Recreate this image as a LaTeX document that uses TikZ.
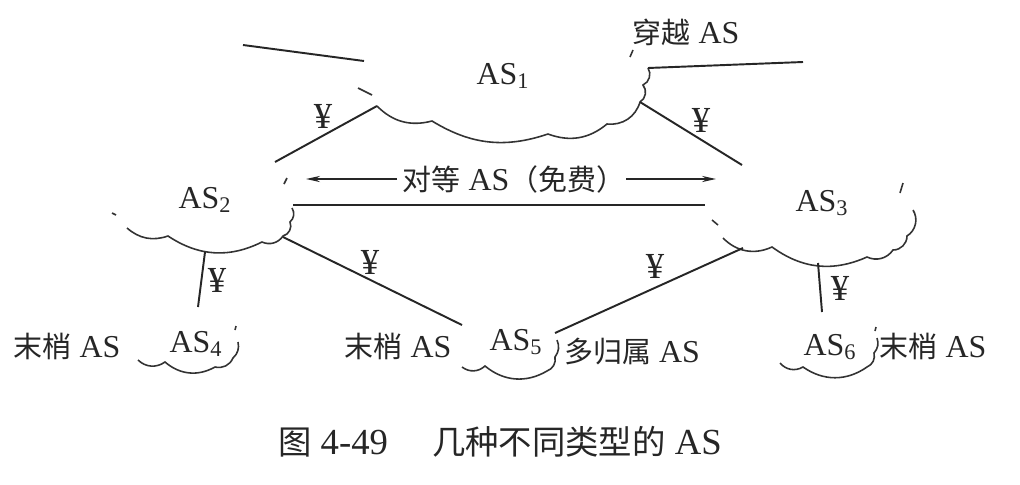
\documentclass[tikz,border=0pt]{standalone}
\usepackage{fontspec}
\setmainfont{Liberation Serif}[Scale=1.1]
\newfontfamily\cjk{Noto Sans CJK SC}
\usetikzlibrary{arrows.meta}
\begin{document}
\begin{tikzpicture}[x=0.02cm,y=-0.02cm,
  lbl/.style={inner sep=0pt, font=\fontsize{16.5}{19}\selectfont, text=black!85},
  yen/.style={inner sep=0pt, font=\fontsize{19}{22}\selectfont, text=black!85},
  captxt/.style={inner sep=0pt, font=\fontsize{19}{22}\selectfont, text=black!85},
  link/.style={line width=1.1pt, draw=black!85},
  cl/.style={line width=0.9pt, draw=black!80},
  tip/.style={-{Stealth[length=8pt,width=3.5pt]}}]

\fill[white] (0,0) rectangle (1020,484);
\useasboundingbox (0,0) rectangle (1020,484);

% ---------- clouds (lower outlines) ----------
% AS1
\draw[cl] (377,106) to[bend right=30] (432,121) to[bend right=25] (548,134)
  to[bend right=30] (607,124) to[bend right=40] (640,102)
  to[bend right=50] (643,85) to[bend right=50] (648,68);
\draw[cl] (358,88) -- (372,95);
\draw[cl] (633,50) -- (630,57);
% AS2
\draw[cl] (112,213) -- (116,215);
\draw[cl] (127,228) to[bend right=30] (168,236) to[bend right=30] (262,242)
  to[bend right=40] (283,236) to[bend right=50] (290,222) to[bend right=40] (292,208);
\draw[cl] (284,184) -- (287,178);
% AS3
\draw[cl] (712,220) -- (718,225);
\draw[cl] (723,238) to[bend right=35] (772,247) to[bend right=30] (867,257)
  to[bend right=40] (893,250) to[bend right=45] (907,236) to[bend right=45] (913,210);
\draw[cl] (900,193) -- (903,183);
% AS4
\draw[cl] (138,360) to[bend right=40] (165,362) to[bend right=35] (215,367)
  to[bend right=40] (233,358) to[bend right=30] (238,342);
\draw[cl] (235,330) -- (236,326);
% AS5
\draw[cl] (462,367) to[bend right=40] (485,366) to[bend right=35] (547,371)
  to[bend right=40] (555,357) to[bend right=30] (557,340);
% AS6
\draw[cl] (780,363) to[bend right=40] (803,367) to[bend right=35] (867,367)
  to[bend right=40] (874,353) to[bend right=30] (877,338);
\draw[cl] (875,331) -- (876,327);

% ---------- text ----------
\node[lbl] (t1) at (686,32) {{\cjk 穿越} AS};
\node[lbl] (as1) at (503,76) {AS\textsubscript{1}};
\node[lbl] (as2) at (205,200) {AS\textsubscript{2}};
\node[lbl] (as3) at (822,203) {AS\textsubscript{3}};
\node[lbl] (as4) at (196,344) {AS\textsubscript{4}};
\node[lbl] (as5) at (516,342) {AS\textsubscript{5}};
\node[lbl] (as6) at (830,347) {AS\textsubscript{6}};
\node[lbl] (m4) at (67,346) {{\cjk 末梢} AS};
\node[lbl] (m5) at (398,346) {{\cjk 末梢} AS};
\node[lbl] (m6) at (933,346) {{\cjk 末梢} AS};
\node[lbl] (mh) at (632,352) {{\cjk 多归属} AS};
\node[lbl] (peer) at (514,179) {{\cjk 对等} AS{\cjk （免费）}};
\node[yen] (y1) at (323,116) {¥};
\node[yen] (y2) at (701,120) {¥};
\node[yen] (y3) at (217,280) {¥};
\node[yen] (y4) at (370,262) {¥};
\node[yen] (y5) at (655,266) {¥};
\node[yen] (y6) at (840,288) {¥};
\node[captxt] (caption) at (500,442) {{\cjk 图} 4-49\hspace{1.2em}{\cjk 几种不同类型的} AS};

% ---------- connector endpoints ----------
\coordinate (a1w) at (377,106);
\coordinate (a1e) at (640,102);
\coordinate (a1ne) at (648,68);
\coordinate (a2ne) at (275,162);
\coordinate (a2e) at (293,205);
\coordinate (a2se) at (283,237);
\coordinate (a2s) at (205,252);
\coordinate (a3nw) at (742,165);
\coordinate (a3w) at (705,205);
\coordinate (a3sw) at (743,248);
\coordinate (a3s) at (818,263);
\coordinate (a4n) at (198,307);
\coordinate (a5nw) at (462,325);
\coordinate (a5ne) at (555,333);
\coordinate (a6n) at (822,312);
\coordinate (tlA) at (243,45);
\coordinate (tlB) at (364,61);
\coordinate (trB) at (803,62);
\coordinate (arLs) at (397,179);
\coordinate (arLe) at (306,179);
\coordinate (arRs) at (626,179);
\coordinate (arRe) at (716,179);

% ---------- connectors ----------
\draw[link] (tlA) -- (tlB);
\draw[link] (a1ne) -- (trB);
\draw[link] (a1w) -- (a2ne);
\draw[link] (a1e) -- (a3nw);
\draw[link] (a2e) -- (a3w);
\draw[link] (a2s) -- (a4n);
\draw[link] (a2se) -- (a5nw);
\draw[link] (a3sw) -- (a5ne);
\draw[link] (a3s) -- (a6n);
\draw[link,tip,line width=0.8pt] (arLs) -- (arLe);
\draw[link,tip,line width=0.8pt] (arRs) -- (arRe);
\end{tikzpicture}
\end{document}
